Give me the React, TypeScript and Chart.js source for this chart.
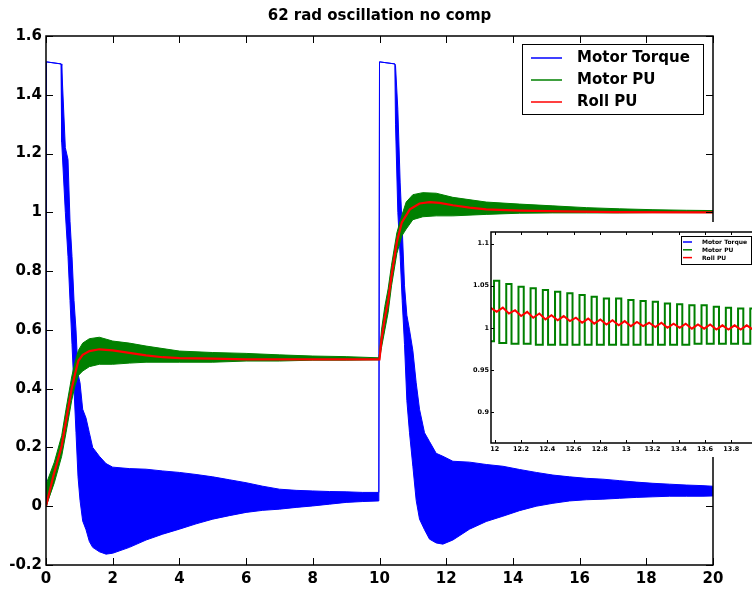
import React, { useEffect, useRef } from "react";
import { Chart, registerables } from "chart.js";
Chart.register(...registerables);

const FONT = "'DejaVu Sans', 'Liberation Sans', sans-serif";
const BLUE = "#0000ff";
const GREEN = "#008000";
const RED = "#ff0000";

const titleText = "62 rad oscillation no comp";
const seriesNames = ["Motor Torque", "Motor PU", "Roll PU"];
const seriesColors = [BLUE, GREEN, RED];

const xTicks = [0, 2, 4, 6, 8, 10, 12, 14, 16, 18, 20];
const yTicks = [-0.2, 0, 0.2, 0.4, 0.6, 0.8, 1, 1.2, 1.4, 1.6];

// Motor Torque: envelope of the dense oscillation (upper / lower)
const blueT = [0, 0.01, 0.45, 0.47, 0.58, 0.66, 0.72, 0.78, 0.84, 0.9, 0.96, 1.02, 1.1, 1.2, 1.3, 1.4, 1.6, 1.8, 2.0, 2.5, 3.0, 3.5, 4.0, 4.5, 5.0, 5.5, 6.0, 6.5, 7.0, 7.5, 8.0, 8.5, 9.0, 9.5, 9.98, 10.0, 10.46, 10.48, 10.55, 10.62, 10.68, 10.75, 10.82, 10.9, 11.0, 11.1, 11.2, 11.35, 11.5, 11.7, 11.9, 12.2, 12.7, 13.2, 13.7, 14.2, 14.7, 15.2, 15.7, 16.2, 16.7, 17.2, 17.7, 18.2, 18.7, 19.2, 19.7, 20.0];
const blueHi = [0, 1.512, 1.505, 1.5, 1.22, 1.18, 0.97, 0.85, 0.7, 0.6, 0.45, 0.42, 0.33, 0.3, 0.25, 0.2, 0.17, 0.145, 0.133, 0.128, 0.126, 0.12, 0.115, 0.108, 0.1, 0.09, 0.08, 0.068, 0.058, 0.054, 0.052, 0.05, 0.049, 0.047, 0.047, 1.512, 1.505, 1.5, 1.35, 1.1, 0.95, 0.75, 0.65, 0.6, 0.53, 0.42, 0.33, 0.25, 0.22, 0.18, 0.17, 0.153, 0.15, 0.142, 0.136, 0.125, 0.115, 0.106, 0.1, 0.095, 0.092, 0.087, 0.082, 0.078, 0.075, 0.072, 0.07, 0.068];
const blueLo = [0, 1.512, 1.505, 1.24, 1.0, 0.85, 0.7, 0.55, 0.4, 0.25, 0.1, 0.02, -0.05, -0.08, -0.12, -0.14, -0.155, -0.163, -0.16, -0.14, -0.115, -0.095, -0.078, -0.06, -0.044, -0.032, -0.021, -0.014, -0.01, -0.004, 0.001, 0.007, 0.013, 0.016, 0.018, 1.512, 1.505, 1.3, 1.0, 0.85, 0.7, 0.55, 0.36, 0.25, 0.136, 0.02, -0.044, -0.08, -0.112, -0.125, -0.129, -0.115, -0.078, -0.052, -0.034, -0.015, 0.0, 0.01, 0.018, 0.022, 0.024, 0.027, 0.03, 0.032, 0.034, 0.034, 0.034, 0.035];

// Motor PU: envelope (upper / lower)
const greenT = [0, 0.02, 0.25, 0.47, 0.6, 0.77, 0.87, 0.97, 1.1, 1.3, 1.6, 2.0, 2.5, 3.0, 4.0, 5.0, 6.0, 7.0, 8.0, 9.0, 9.98, 10.0, 10.06, 10.16, 10.26, 10.36, 10.52, 10.67, 10.8, 11.0, 11.3, 11.7, 12.2, 13.2, 14.2, 15.2, 16.2, 17.2, 18.2, 19.2, 20.0];
const greenHi = [0, 0.08, 0.15, 0.24, 0.33, 0.44, 0.49, 0.53, 0.555, 0.57, 0.575, 0.562, 0.555, 0.545, 0.528, 0.523, 0.52, 0.515, 0.511, 0.509, 0.505, 0.52, 0.6, 0.68, 0.74, 0.82, 0.93, 0.99, 1.035, 1.06, 1.067, 1.065, 1.051, 1.035, 1.028, 1.022, 1.016, 1.012, 1.009, 1.007, 1.006];
const greenLo = [0, 0.0, 0.08, 0.17, 0.25, 0.36, 0.41, 0.445, 0.46, 0.475, 0.483, 0.483, 0.487, 0.49, 0.49, 0.49, 0.494, 0.494, 0.497, 0.497, 0.498, 0.5, 0.54, 0.6, 0.66, 0.75, 0.86, 0.92, 0.943, 0.975, 0.985, 0.988, 0.988, 0.993, 0.997, 0.998, 0.998, 0.998, 0.999, 0.999, 0.999];

// Roll PU
const redT = [0, 0.22, 0.47, 0.6, 0.77, 0.87, 0.97, 1.1, 1.3, 1.6, 2.0, 2.5, 3.0, 3.5, 4.0, 5.0, 6.0, 8.0, 10.0, 10.06, 10.16, 10.26, 10.36, 10.52, 10.67, 10.91, 11.2, 11.5, 11.8, 12.2, 12.7, 13.2, 14.2, 15.5, 17.0, 20.0];
const redV = [0, 0.103, 0.205, 0.29, 0.4, 0.45, 0.495, 0.515, 0.528, 0.534, 0.53, 0.522, 0.513, 0.507, 0.504, 0.502, 0.5, 0.5, 0.5, 0.568, 0.64, 0.7, 0.784, 0.898, 0.966, 1.01, 1.03, 1.035, 1.032, 1.024, 1.016, 1.01, 1.006, 1.003, 1.001, 1.0];

// Inset (zoom on 12 s .. 14 s)
const insetXTicks = [12, 12.2, 12.4, 12.6, 12.8, 13, 13.2, 13.4, 13.6, 13.8, 14];
const insetXLabels = ["12", "12.2", "12.4", "12.6", "12.8", "13", "13.2", "13.4", "13.6", "13.8", "14"];
const insetYTicks = [0.9, 0.95, 1, 1.05, 1.1];
const insetYLabels = ["0.9", "0.95", "1", "1.05", "1.1"];

const insetGreenT = [11.95, 11.995, 12.035, 12.088, 12.128, 12.181, 12.221, 12.273, 12.313, 12.366, 12.406, 12.459, 12.499, 12.552, 12.592, 12.645, 12.685, 12.737, 12.777, 12.83, 12.87, 12.923, 12.963, 13.016, 13.056, 13.109, 13.149, 13.202, 13.242, 13.294, 13.334, 13.387, 13.427, 13.48, 13.52, 13.573, 13.613, 13.666, 13.706, 13.758, 13.798, 13.851, 13.891, 13.944, 13.984, 14.037, 14.077, 14.2];
const insetGreenV = [0.984, 1.056, 0.982, 1.052, 0.981, 1.049, 0.981, 1.047, 0.98, 1.045, 0.98, 1.043, 0.98, 1.041, 0.98, 1.039, 0.98, 1.037, 0.98, 1.035, 0.98, 1.035, 0.98, 1.033, 0.98, 1.032, 0.98, 1.031, 0.98, 1.029, 0.98, 1.028, 0.98, 1.027, 0.981, 1.027, 0.981, 1.025, 0.981, 1.024, 0.981, 1.023, 0.981, 1.023, 0.981, 1.022, 0.981, 0.981];

const insetRedT = [11.95, 12.015, 12.062, 12.108, 12.155, 12.201, 12.247, 12.293, 12.34, 12.386, 12.432, 12.479, 12.525, 12.572, 12.618, 12.665, 12.711, 12.757, 12.804, 12.85, 12.896, 12.943, 12.989, 13.036, 13.082, 13.129, 13.175, 13.222, 13.268, 13.314, 13.361, 13.407, 13.453, 13.5, 13.546, 13.593, 13.639, 13.686, 13.732, 13.778, 13.825, 13.871, 13.917, 13.964, 14.01, 14.06, 14.2];
const insetRedV = [1.026, 1.019, 1.024, 1.017, 1.021, 1.014, 1.019, 1.012, 1.017, 1.01, 1.015, 1.009, 1.014, 1.008, 1.012, 1.006, 1.011, 1.005, 1.01, 1.004, 1.009, 1.003, 1.008, 1.002, 1.007, 1.002, 1.006, 1.001, 1.006, 1.0, 1.005, 1.0, 1.005, 0.999, 1.004, 0.999, 1.004, 0.998, 1.003, 0.998, 1.003, 0.998, 1.003, 0.998, 1.002, 0.998, 1.002];

const pts = (t: number[], v: number[]) => t.map((x, i) => ({ x, y: v[i] }));

function drawFrame(chart: any, tickLen: number, xt: number[], yt: number[], lw: number) {
  const { ctx, chartArea: a, scales } = chart;
  const x = scales.x;
  const y = scales.y;
  ctx.save();
  ctx.strokeStyle = "#000";
  ctx.lineWidth = 1;
  ctx.beginPath();
  for (const v of xt) {
    const px = Math.round(x.getPixelForValue(v)) + 0.5;
    ctx.moveTo(px, a.bottom);
    ctx.lineTo(px, a.bottom - tickLen);
    ctx.moveTo(px, a.top);
    ctx.lineTo(px, a.top + tickLen);
  }
  for (const v of yt) {
    const py = Math.round(y.getPixelForValue(v)) + 0.5;
    ctx.moveTo(a.left, py);
    ctx.lineTo(a.left + tickLen, py);
    ctx.moveTo(a.right, py);
    ctx.lineTo(a.right - tickLen, py);
  }
  ctx.stroke();
  ctx.lineWidth = lw;
  ctx.strokeRect(a.left, a.top, a.right - a.left, a.bottom - a.top);
  ctx.restore();
}

function drawLegend(chart: any, left: number, top: number, w: number, h: number, rowH: number, firstRow: number, lineX0: number, lineX1: number, textX: number, fontSize: number, lineW: number) {
  const { ctx } = chart;
  ctx.save();
  ctx.fillStyle = "#fff";
  ctx.fillRect(left, top, w, h);
  ctx.strokeStyle = "#000";
  ctx.lineWidth = 1;
  ctx.strokeRect(left + 0.5, top + 0.5, w, h);
  ctx.font = `bold ${fontSize}px ${FONT}`;
  ctx.textBaseline = "middle";
  ctx.textAlign = "left";
  seriesNames.forEach((name, i) => {
    const yy = top + firstRow + i * rowH;
    ctx.strokeStyle = seriesColors[i];
    ctx.lineWidth = lineW;
    ctx.beginPath();
    ctx.moveTo(left + lineX0, yy);
    ctx.lineTo(left + lineX1, yy);
    ctx.stroke();
    ctx.fillStyle = "#000";
    ctx.fillText(name, left + textX, yy + 0.5);
  });
  ctx.restore();
}

const mainDecor = {
  id: "mainDecor",
  afterDraw(chart: any) {
    const { ctx, chartArea: a } = chart;
    drawFrame(chart, 7, xTicks, yTicks, 1.5);
    ctx.save();
    ctx.font = `bold 15px ${FONT}`;
    ctx.fillStyle = "#000";
    ctx.textAlign = "center";
    ctx.textBaseline = "alphabetic";
    ctx.fillText(titleText, (a.left + a.right) / 2, 20);
    ctx.restore();
    drawLegend(chart, a.right - 191, a.top + 8, 181, 70, 22, 14, 9, 40, 55, 15, 1.5);
  },
};

const insetDecor = {
  id: "insetDecor",
  afterDraw(chart: any) {
    const { chartArea: a } = chart;
    drawFrame(chart, 3, insetXTicks, insetYTicks, 1.5);
    drawLegend(chart, a.left + 190, a.top + 4, 70, 28, 7.8, 6, 2, 11, 21, 6, 1.5);
  },
};

const tickFont = { family: FONT, size: 15, weight: "bold" as const };
const insetFont = { family: FONT, size: 6.5, weight: "bold" as const };

export default function App() {
  const mainRef = useRef<HTMLCanvasElement | null>(null);
  const insetRef = useRef<HTMLCanvasElement | null>(null);

  useEffect(() => {
    const common = { pointRadius: 0, tension: 0 };
    // Chart.js paints dataset 0 last (on top): red first, blue last.
    const main = new Chart(mainRef.current as HTMLCanvasElement, {
      type: "line",
      data: {
        datasets: [
          { data: pts(redT, redV), borderColor: RED, borderWidth: 2.2, fill: false, ...common },
          { data: pts(greenT, greenLo), borderColor: GREEN, borderWidth: 1, fill: false, ...common },
          { data: pts(greenT, greenHi), borderColor: GREEN, borderWidth: 1, fill: "-1", backgroundColor: GREEN, ...common },
          { data: pts(blueT, blueLo), borderColor: BLUE, borderWidth: 1, fill: false, ...common },
          { data: pts(blueT, blueHi), borderColor: BLUE, borderWidth: 1, fill: "-1", backgroundColor: BLUE, ...common },
        ],
      },
      options: {
        responsive: false,
        animation: false,
        devicePixelRatio: 1,
        events: [],
        layout: { padding: { left: 0, top: 36, right: 39, bottom: 0 } },
        plugins: { legend: { display: false }, tooltip: { enabled: false }, title: { display: false } },
        scales: {
          x: {
            type: "linear",
            min: 0,
            max: 20,
            afterBuildTicks: (s: any) => { s.ticks = xTicks.map((v) => ({ value: v })); },
            afterFit: (s: any) => { s.height = 29; },
            grid: { display: false, drawTicks: false },
            border: { display: false },
            ticks: { font: tickFont, color: "#000", padding: 5, maxRotation: 0, autoSkip: false, callback: (v: any) => String(v) },
          },
          y: {
            type: "linear",
            min: -0.2,
            max: 1.6,
            afterBuildTicks: (s: any) => { s.ticks = yTicks.map((v) => ({ value: v })); },
            afterFit: (s: any) => { s.width = 46; },
            grid: { display: false, drawTicks: false },
            border: { display: false },
            ticks: { font: tickFont, color: "#000", padding: 4, autoSkip: false, callback: (v: any) => String(v) },
          },
        },
      } as any,
      plugins: [mainDecor],
    });

    const inset = new Chart(insetRef.current as HTMLCanvasElement, {
      type: "line",
      data: {
        datasets: [
          { data: pts(insetRedT, insetRedV), borderColor: RED, borderWidth: 2, fill: false, ...common },
          { data: pts(insetGreenT, insetGreenV), borderColor: GREEN, borderWidth: 2, stepped: true, fill: false, ...common },
        ],
      },
      options: {
        responsive: false,
        animation: false,
        devicePixelRatio: 1,
        events: [],
        layout: { padding: { left: 0, top: 10, right: 0, bottom: 0 } },
        plugins: { legend: { display: false }, tooltip: { enabled: false } },
        scales: {
          x: {
            type: "linear",
            min: 11.972,
            max: 14.17,
            afterBuildTicks: (s: any) => { s.ticks = insetXTicks.map((v) => ({ value: v })); },
            afterFit: (s: any) => { s.height = 14; },
            grid: { display: false, drawTicks: false },
            border: { display: false },
            ticks: { font: insetFont, color: "#000", padding: 2, maxRotation: 0, autoSkip: false, callback: (_v: any, i: number) => insetXLabels[i] },
          },
          y: {
            type: "linear",
            min: 0.863,
            max: 1.114,
            afterBuildTicks: (s: any) => { s.ticks = insetYTicks.map((v) => ({ value: v })); },
            afterFit: (s: any) => { s.width = 31; },
            grid: { display: false, drawTicks: false },
            border: { display: false },
            ticks: { font: insetFont, color: "#000", padding: 2, autoSkip: false, callback: (_v: any, i: number) => insetYLabels[i] },
          },
        },
      } as any,
      plugins: [insetDecor],
    });

    return () => {
      main.destroy();
      inset.destroy();
    };
  }, []);

  return (
    <div style={{ position: "fixed", left: 0, top: 0, width: 752, height: 594, overflow: "hidden", background: "#fff" }}>
      <canvas ref={mainRef} width={752} height={594} style={{ position: "absolute", left: 0, top: 0, width: 752, height: 594 }} />
      <div style={{ position: "absolute", left: 460, top: 222, width: 320, height: 235, background: "#fff" }}>
        <canvas ref={insetRef} width={320} height={235} style={{ width: 320, height: 235, display: "block" }} />
      </div>
    </div>
  );
}
